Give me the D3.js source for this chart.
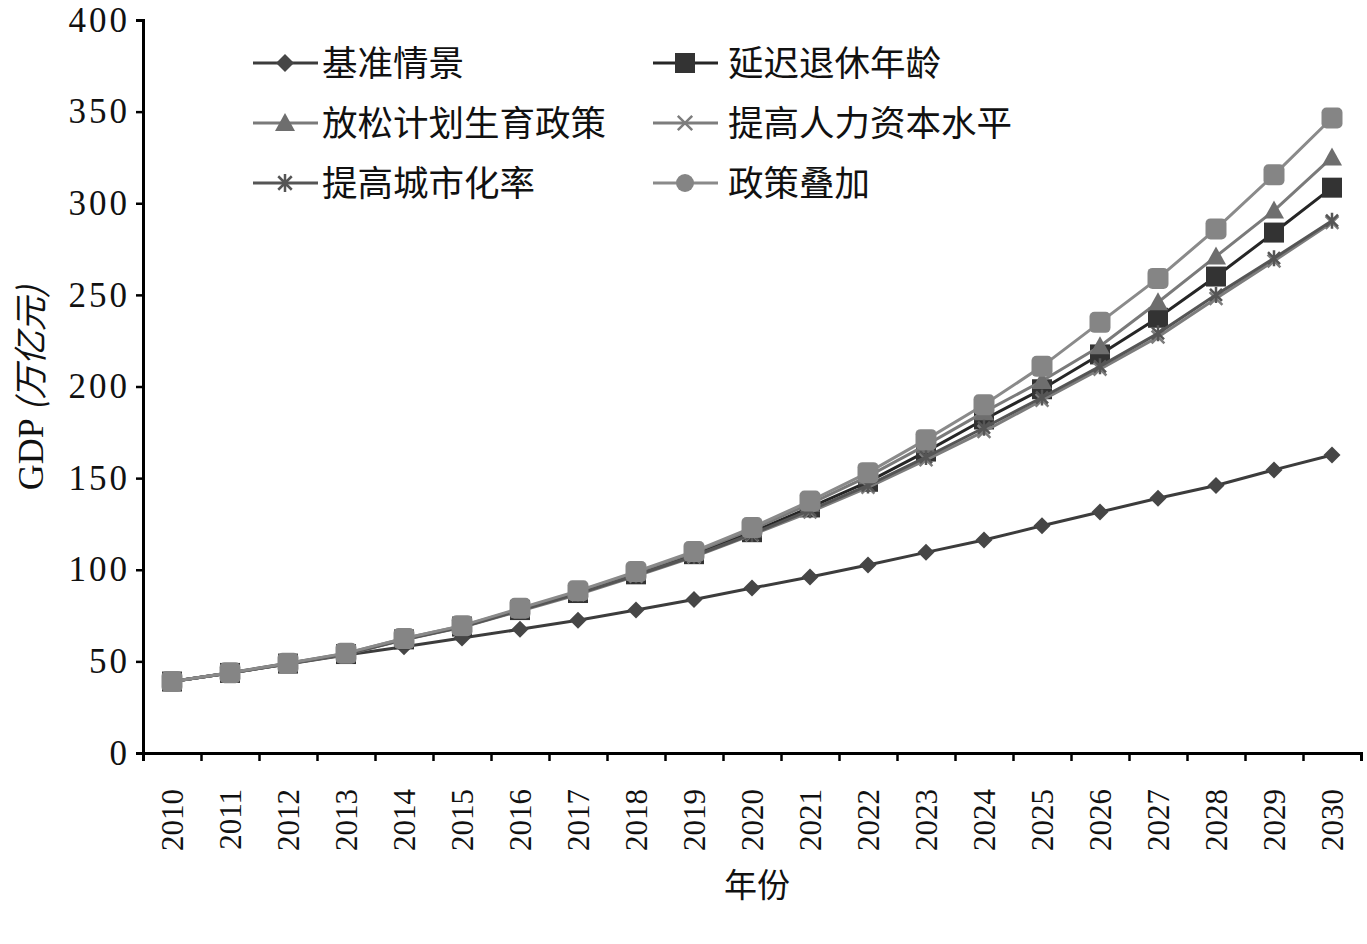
<!DOCTYPE html>
<html><head><meta charset="utf-8">
<script src="https://cdn.jsdelivr.net/npm/d3@7"></script>
<style>
html,body{margin:0;padding:0;background:#fff;}
svg{display:block;}
</style>
</head><body>
<svg id="chart" width="1367" height="944"></svg>
<script>
const years = ["2010","2011","2012","2013","2014","2015","2016","2017","2018","2019","2020","2021","2022","2023","2024","2025","2026","2027","2028","2029","2030"];
const yTicks = [0,50,100,150,200,250,300,350,400];
const seriesNames = ["基准情景","延迟退休年龄","放松计划生育政策","提高人力资本水平","提高城市化率","政策叠加"];
const baseline   = [39,43.6,48.6,53.5,58,62.7,67.5,72.5,78,83.8,90,96,102.6,109.5,116.2,124,131.5,139,146,154.5,162.6];
const retirement = [39,43.7,48.8,54,62,69,78,87.3,97.5,108.5,120.5,134,148,164.5,182,198.5,217.5,237.5,260,284,308.5];
const birth      = [39,43.8,49,54.3,62.5,69.3,78.5,88,98.5,109.5,122,136,151,168,186,203,222,246,271,296,325];
const human      = [39,43.6,48.7,53.8,61.8,68.6,77.5,86.5,96.5,107,119,131.5,145,160,175.5,192.5,209.5,227,248,268.5,289.5];
const urban      = [39,43.6,48.7,53.9,61.9,68.8,77.8,87,97,107.5,119.5,132.5,146,161.5,177.5,194,211,229,250,270,290.5];
const combined   = [39,43.8,49,54.5,62.5,69.5,79,88.5,99,110,123,137.5,153,171,190,211,235,259,286,315.5,346.5];

const seriesValues = [baseline, retirement, birth, human, urban, combined];
const styles = [
  {line:"#3c3c3c", fill:"#464646", marker:"diamond"},
  {line:"#262626", fill:"#333333", marker:"square"},
  {line:"#7a7a7a", fill:"#6e6e6e", marker:"triangle"},
  {line:"#7d7d7d", fill:"#6a6a6a", marker:"x"},
  {line:"#555555", fill:"#444444", marker:"asterisk"},
  {line:"#8a8a8a", fill:"#858585", marker:"circle"}
];

const svg = d3.select("#chart");
const pLeft = 143, pRight = 1361, pTop = 20, pBottom = 753;

const x = d3.scalePoint().domain(years).range([pLeft, pRight]).padding(0.5);
const y = d3.scaleLinear().domain([0,400]).range([pBottom, pTop]);

function drawMarker(g, type, cx, cy, s, fill, stroke) {
  const h = s/2;
  if (type === "diamond") {
    g.append("path").attr("d", `M${cx},${cy-h}L${cx+h},${cy}L${cx},${cy+h}L${cx-h},${cy}Z`).attr("fill", fill);
  } else if (type === "square") {
    g.append("rect").attr("x", cx-h).attr("y", cy-h).attr("width", s).attr("height", s).attr("fill", fill);
  } else if (type === "triangle") {
    g.append("path").attr("d", `M${cx},${cy-h}L${cx+h},${cy+h*0.8}L${cx-h},${cy+h*0.8}Z`).attr("fill", fill);
  } else if (type === "x") {
    g.append("path").attr("d", `M${cx-h*0.8},${cy-h*0.8}L${cx+h*0.8},${cy+h*0.8}M${cx+h*0.8},${cy-h*0.8}L${cx-h*0.8},${cy+h*0.8}`)
      .attr("stroke", stroke).attr("stroke-width", 2.5).attr("fill", "none");
  } else if (type === "asterisk") {
    g.append("path").attr("d", `M${cx-h*0.75},${cy-h*0.75}L${cx+h*0.75},${cy+h*0.75}M${cx+h*0.75},${cy-h*0.75}L${cx-h*0.75},${cy+h*0.75}M${cx},${cy-h}L${cx},${cy+h}`)
      .attr("stroke", stroke).attr("stroke-width", 2.5).attr("fill", "none");
  } else if (type === "circle") {
    g.append("circle").attr("cx", cx).attr("cy", cy).attr("r", h).attr("fill", fill);
  } else if (type === "rsquare") {
    g.append("rect").attr("x", cx-h).attr("y", cy-h).attr("width", s).attr("height", s).attr("rx", 5).attr("fill", fill);
  }
}

// Series
const line = d3.line().x((d,i)=>x(years[i])).y(d=>y(d));
seriesValues.forEach((vals, si) => {
  const st = styles[si];
  const g = svg.append("g");
  g.append("path").datum(vals).attr("d", line).attr("fill","none").attr("stroke", st.line).attr("stroke-width", 3);
  vals.forEach((v,i) => {
    const m = st.marker === "circle" ? "rsquare" : st.marker;
    const s = st.marker === "diamond" ? 17 : (st.marker === "x" || st.marker === "asterisk") ? 16 : st.marker === "circle" ? 21 : 20;
    drawMarker(g, m, x(years[i]), y(v), s, st.fill, st.line);
  });
});

// Y axis
const yAxis = svg.append("g").attr("transform", `translate(${pLeft},0)`)
  .call(d3.axisLeft(y).tickValues(yTicks).tickSize(7).tickPadding(6));
yAxis.select(".domain").attr("stroke","#000").attr("stroke-width",3);
yAxis.selectAll(".tick line").attr("stroke","#000").attr("stroke-width",2.5);
yAxis.selectAll(".tick text").attr("font-family","'Liberation Serif', serif").attr("font-size",35)
  .attr("fill","#111").attr("letter-spacing", 3);

// X axis: boundary ticks
const xb = d3.scaleLinear().domain([0, years.length]).range([pLeft, pRight]);
const xAxisTicks = svg.append("g").attr("transform", `translate(0,${pBottom})`)
  .call(d3.axisBottom(xb).ticks(years.length).tickSize(8).tickFormat(""));
xAxisTicks.select(".domain").attr("stroke","#000").attr("stroke-width",3);
xAxisTicks.selectAll(".tick line").attr("stroke","#000").attr("stroke-width",2.5);

// X axis: labels
const xAxisLabels = svg.append("g").attr("transform", `translate(0,${pBottom})`)
  .call(d3.axisBottom(x).tickSize(0));
xAxisLabels.select(".domain").remove();
xAxisLabels.selectAll(".tick text")
  .attr("transform","rotate(-90)")
  .attr("text-anchor","end")
  .attr("x", -36).attr("y", 0).attr("dy","0.35em")
  .attr("font-family","'Liberation Serif', serif").attr("font-size",31).attr("fill","#111");

// Axis titles
svg.append("text").attr("x", 757).attr("y", 897).attr("text-anchor","middle")
  .attr("font-family","'Noto Sans CJK SC', sans-serif").attr("font-size",33).attr("fill","#111").text("年份");
const yt = svg.append("text").attr("transform","translate(43,388) rotate(-90)").attr("text-anchor","middle")
  .attr("font-family","'Liberation Serif', serif").attr("font-size",36).attr("fill","#111");
yt.append("tspan").text("GDP ");
yt.append("tspan").attr("font-family","'Noto Sans CJK SC', sans-serif").attr("font-style","italic").attr("font-size",34).text("(万亿元)");

// Legend
const legendPos = [[253,63],[653,63],[253,123],[653,123],[253,183],[653,183]];
seriesNames.forEach((name, si) => {
  const st = styles[si];
  const [lx, ly] = legendPos[si];
  const g = svg.append("g");
  g.append("line").attr("x1", lx).attr("x2", lx+65).attr("y1", ly).attr("y2", ly)
    .attr("stroke", st.line).attr("stroke-width", 3);
  const s = st.marker === "diamond" ? 18 : (st.marker === "x" || st.marker === "asterisk") ? 18 : st.marker === "circle" ? 18 : 20;
  drawMarker(g, st.marker, lx+32, ly, s, st.fill, st.line);
  g.append("text").attr("x", si%2===0 ? 322 : 728).attr("y", ly).attr("dy","0.36em")
    .attr("font-family","'Noto Sans CJK SC', sans-serif").attr("font-size",35.5).attr("fill","#111").text(name);
});
</script>
</body></html>
